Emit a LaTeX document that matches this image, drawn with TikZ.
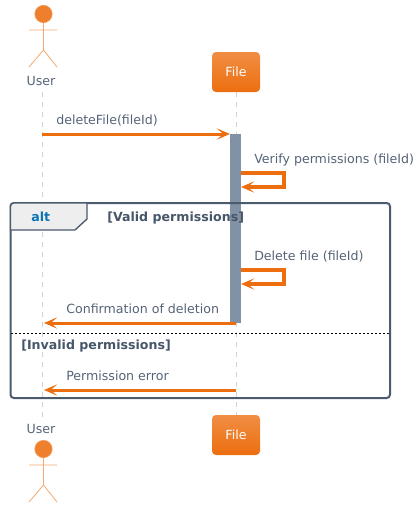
\documentclass[tikz,border=0pt]{standalone}
\usepackage{fontspec}
\setmainfont{DejaVu Sans}
\usetikzlibrary{arrows.meta}

\definecolor{inkgray}{HTML}{556377}
\definecolor{guardgray}{HTML}{475569}
\definecolor{framegray}{HTML}{4A5B6E}
\definecolor{flow}{HTML}{EC6E0F}
\definecolor{actbar}{HTML}{8292A6}
\definecolor{tabfill}{HTML}{EEEEEE}
\definecolor{altblue}{HTML}{0B74B5}

\begin{document}
\begin{tikzpicture}[
    x=0.75pt, y=-0.75pt,
    every node/.style={font=\fontsize{9.45pt}{11pt}\selectfont, text=inkgray, inner sep=0pt},
    lifeline/.style={draw=gray!35, dash pattern=on 3.75pt off 3.75pt, line width=0.75pt},
    filebox/.style={rounded corners=3pt, top color=flow!78!white, bottom color=flow,
                    text=white, minimum width=36pt, minimum height=30pt},
    stick/.style={draw=flow!60!white, line width=0.6pt},
    head/.style={circle, fill=flow!88!white, draw=flow!70!white, minimum size=13pt, line width=0.5pt},
    msg/.style={draw=flow, line width=2.25pt, -{Stealth[length=10pt, width=8.5pt, inset=5pt]}},
    selfmsg/.style={msg, line width=2.4pt},
    msgtext/.style={anchor=base west},
    guard/.style={anchor=base west, text=guardgray, font=\fontsize{9.45pt}{11pt}\selectfont\bfseries},
  ]
  \useasboundingbox (0,0) rectangle (419,507);

  % participants
  \node [head] (headTop) at (43.5,14) {};
  \coordinate (neckTop) at (43.5,50);
  \draw [stick] (headTop) -- (neckTop) (29,30) -- (57,30) (29,67) -- (neckTop) -- (57,67);
  \node [anchor=base] (userTop) at (41,85) {User};
  \node [filebox] (fileTop) at (236,72) {File};

  \node [anchor=base] (userBot) at (41,433) {User};
  \node [head] (headBot) at (43.5,449) {};
  \coordinate (neckBot) at (43.5,485);
  \draw [stick] (headBot) -- (neckBot) (29,465) -- (57,465) (29,502) -- (neckBot) -- (57,502);
  \node [filebox] (fileBot) at (236,435) {File};

  % lifelines
  \coordinate (userLineA) at (42.5,92);
  \coordinate (userLineB) at (42.5,417);
  \draw [lifeline] (userLineA) -- (userLineB);
  \draw [lifeline] (fileTop) -- (fileBot);

  % activation bar
  \fill [actbar] (230,134) rectangle (241,323);
  \coordinate (barTop) at (230,134);

  % group frame
  \draw [framegray, line width=1.5pt, rounded corners=2.5pt] (10.5,203) rectangle (390,398);
  \draw [framegray, fill=tabfill, line width=1pt, rounded corners=0pt]
    (10.5,230) -- (10.5,205) [rounded corners=2.5pt] -- (10.5,203) [rounded corners=0pt]
    -- (87,203) -- (87,219) -- (75,230) -- cycle;
  \node [anchor=base west, text=altblue, font=\fontsize{9.45pt}{11pt}\selectfont\bfseries] (altTag) at (31,221) {alt};
  \node [guard] (validGuard) at (107,221.5) {[Valid permissions]};
  \draw [black, line width=0.5pt, dash pattern=on 1.5pt off 1.5pt] (11,333) -- (390,333);
  \node [guard] (invalidGuard) at (21,349) {[Invalid permissions]};

  % messages
  \coordinate (userA) at (42,134);
  \draw [msg] (userA) -- (barTop);
  \node [msgtext] (deleteText) at (56,124) {deleteFile(fileId)};

  \coordinate (verifyA) at (241,173);
  \coordinate (verifyB) at (241,187);
  \draw [selfmsg] (verifyA) -- (284,173) -- (284,187) -- (verifyB);
  \node [msgtext] (verifyText) at (254,163) {Verify permissions (fileId)};

  \coordinate (removeA) at (241,270);
  \coordinate (removeB) at (241,284);
  \draw [selfmsg] (removeA) -- (284,270) -- (284,284) -- (removeB);
  \node [msgtext] (removeText) at (254,260) {Delete file (fileId)};

  \coordinate (confirmA) at (236,323);
  \coordinate (confirmB) at (44,323);
  \draw [msg] (confirmA) -- (confirmB);
  \node [msgtext] (confirmText) at (66,313) {Confirmation of deletion};

  \coordinate (errorA) at (236,390);
  \coordinate (errorB) at (44,390);
  \draw [msg] (errorA) -- (errorB);
  \node [msgtext] (errorText) at (66,380) {Permission error};
\end{tikzpicture}
\end{document}
